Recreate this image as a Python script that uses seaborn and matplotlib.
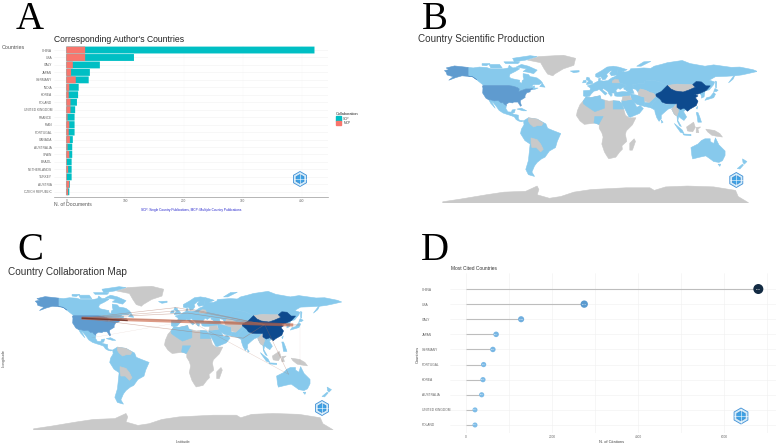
import numpy as np
import pandas as pd
import matplotlib
matplotlib.use("Agg")
import matplotlib.pyplot as plt
from matplotlib.patches import RegularPolygon, Patch
from matplotlib.colors import LinearSegmentedColormap
import seaborn as sns

# ---------- Panel A data ----------
a_countries = ["CHINA", "USA", "ITALY", "JAPAN", "GERMANY", "INDIA", "KOREA", "POLAND",
               "UNITED KINGDOM", "FRANCE", "IRAN", "PORTUGAL", "CANADA", "AUSTRALIA",
               "SPAIN", "BRAZIL", "NETHERLANDS", "TURKEY", "AUSTRIA", "CZECH REPUBLIC"]
a_scp = [390, 83, 46, 32, 22, 16, 16, 11, 8, 12, 9, 10, 5, 8, 5, 8, 6, 8, 1, 2]
a_mcp = [32, 32, 11, 8, 16, 5, 4, 7, 7, 2, 5, 4, 6, 2, 5, 1, 3, 1, 5, 3]

# ---------- Panel D data ----------
d_countries = ["CHINA", "USA", "ITALY", "JAPAN", "GERMANY", "PORTUGAL", "KOREA",
               "AUSTRALIA", "UNITED KINGDOM", "POLAND"]
d_citations = [6790, 2750, 1285, 705, 630, 415, 400, 370, 215, 215]

# ---------- Map outlines (lon, lat) ----------
canada = [(-141,69.6),(-135,69),(-128,70),(-120,69.5),(-115,68),(-108,68),(-100,68),(-95,69),(-94,72),(-90,69),(-85,69.5),(-82,68),(-87,65),(-93,62),(-94,59),(-92,57),(-85,55.5),(-82,55),(-82,52.5),(-79.5,51.5),(-79,54.5),(-77,56),(-78,59),(-78,62.5),(-72,61.5),(-70,59),(-66,58.5),(-62,57.5),(-58,54.5),(-56,52),(-60,50),(-66,50),(-70,47),(-65,48.5),(-65,46),(-61,46),(-66,44),(-67.5,45.5),(-70,46),(-71,45),(-75,45),(-79,43.5),(-83,42),(-82.5,45),(-84.5,46.5),(-89,48),(-95,49),(-123,49),(-130,54.5),(-135,59),(-141,60)]
baffin = [(-80,73),(-72,71),(-62,66.5),(-66,62.5),(-72,64),(-78,65),(-74,68),(-86,70)]
victoria = [(-117,73),(-105,73),(-102,69),(-115,69)]
ellesmere = [(-90,80),(-70,83),(-62,82),(-75,78),(-88,76)]
banks = [(-125,74),(-116,74),(-120,71.5),(-125,72)]
devon = [(-100,76),(-82,76),(-84,74),(-98,74)]
newfoundland = [(-59,47.7),(-56,51.5),(-53,47)]
usa = [(-124.7,48.4),(-123,49),(-95,49),(-89,48),(-84.5,46.5),(-82.5,45),(-83,42),(-79,43.5),(-75,45),(-71,45),(-67.5,45.5),(-67,44.7),(-70,43.5),(-70,41.7),(-74,40.6),(-76,37),(-75.7,35.3),(-78,33.9),(-81,32),(-81.3,30),(-80,26),(-81,25.2),(-82.8,28),(-84,30),(-89,30),(-90,29),(-94,29.6),(-97.3,27.5),(-97.2,26),(-99.5,27.5),(-101.5,29.8),(-103,29),(-106.5,31.8),(-111,31.3),(-114.8,32.5),(-117.2,32.5),(-120.6,34.5),(-122.5,37.5),(-124.3,40.3),(-124,46)]
alaska = [(-141,69.6),(-141,60),(-135,58.5),(-131,55.5),(-136,59),(-148,60),(-155,58),(-163,55),(-158,59),(-165,61),(-166,64),(-168,66),(-163,67),(-166,69),(-156.5,71.3)]
mexico = [(-117.2,32.5),(-114.8,32.5),(-111,31.3),(-106.5,31.8),(-103,29),(-101.5,29.8),(-99.5,27.5),(-97.2,26),(-97.8,22.5),(-95.5,18.8),(-91.5,18.5),(-90.5,21),(-87,21.5),(-88,18),(-91,17),(-92,14.6),(-96,15.8),(-101,17.5),(-105.5,20.5),(-109,25.5),(-112.5,29.5),(-114.5,31),(-110,23),(-115,28.5)]
central_am = [(-92,14.6),(-91,17),(-88.5,16),(-83.5,15),(-83.5,11),(-82,9),(-77.5,8.5),(-80,7.5),(-83,8.3),(-86,10),(-88,13)]
cuba = [(-85,22),(-80,23),(-74,20),(-78,20)]
south_am = [(-77.5,8.5),(-72,12),(-62,10.5),(-52,5),(-50,0),(-44,-2.5),(-35,-6),(-39,-15),(-41,-22),(-48,-26),(-53,-33),(-57,-35),(-62,-39),(-65,-43),(-68,-50),(-65,-55),(-72,-53),(-75,-47),(-72,-37),(-70,-18),(-76,-14),(-81,-6),(-80,-1),(-77,4)]
north_sa_gray = [(-72,12),(-62,10.5),(-55,6),(-57,3),(-62,3),(-66,1.5),(-70,5),(-72,8)]
bolivia_par = [(-69,-11),(-62,-13),(-58,-18),(-55,-24),(-58,-27),(-63,-22),(-68,-22),(-69,-17)]
greenland = [(-73,78),(-60,82),(-32,83.5),(-18,80),(-20,72),(-32,68),(-42,62),(-44,60),(-50,62),(-54,68),(-58,75)]
iceland = [(-24,65.5),(-14,66),(-14,64.5),(-20,63.5)]
europe = [(-9,43),(-1.5,43.5),(-1,46),(-4.5,48.5),(1.5,50.5),(4,52),(8,54),(8.5,57),(10.5,57.5),(10,54.5),(14,54),(19,54.5),(21,56),(24,58),(28,59.5),(28,56),(32,52),(40,49.5),(38,47),(35,46),(33,44.5),(30.5,46),(28,43),(29,41),(26,40.5),(23,40),(24,38),(22.5,36.5),(20,39.5),(19,42),(14,45.5),(12.5,44),(18,40),(16,38),(12,42),(9,44.5),(6,43),(3,42.5),(0,39.5),(-2,36.7),(-5.5,36),(-9,37)]
belarus = [(24,52),(32,52),(31,55.5),(27,56),(24,54)]
scandinavia = [(5,59),(5,62),(12,66),(18,70),(25,71),(31,70),(30,65),(29,61),(23,60),(21,63),(24,65.8),(21.5,65.5),(17.5,62),(18.5,59.5),(16,56),(13,55.5),(11,59),(8,58)]
britain = [(-5.5,50),(1.5,51.2),(1.5,53),(-2,56),(-2,57.5),(-5,58.5),(-6,56),(-3,54),(-5,52)]
ireland = [(-10,52),(-6,52.3),(-6,55),(-9,54.5)]
russia = [(28,59.5),(28,56),(32,52),(40,49.5),(38,47),(37,45),(40,43.5),(48,42),(47,45.5),(49,46.5),(47,50),(55,51),(61,51),(61,54),(70,55),(77,53.5),(83,51),(87,49),(98,50.5),(107,50),(116,50),(120,53.5),(126,53),(131,48),(135,48),(131,43),(135,44),(140,50),(141,53),(135,55),(142,59),(155,59.5),(163,60),(157,52),(162,56),(164,60),(172,61),(179,62.5),(190,65),(185,67),(170,70),(160,69.7),(140,72.5),(130,71),(113,74),(104,77.5),(87,75),(80,73),(72,71),(68,68.5),(60,69),(45,68),(44,66),(40,64.5),(35,64.5),(41,67),(33,69.5),(31,70),(30,65),(29,61)]
novaya = [(52,71),(57,71),(68,76.5),(60,76)]
kazakhstan = [(47,45.5),(49,46.5),(47,50),(55,51),(61,51),(61,54),(70,55),(77,53.5),(83,51),(87,49),(80,42),(71,42.5),(67,41),(62,43.5),(56,45),(53.5,41),(51,44.5)]
kyrgyz = [(67,41),(71,42.5),(80,42),(74,37),(71,40)]
central_gray = [(53.5,41),(56,45),(62,43.5),(67,41),(71,40),(74,37),(70,33),(66,29.5),(61,31),(61,35.5),(54,37.5)]
mongolia = [(87,49),(98,50.5),(107,50),(116,50),(119,47),(111,43.5),(105,41.5),(96,42.7),(91,45)]
china = [(74,39),(80,42),(87,49),(91,45),(96,42.7),(105,41.5),(111,43.5),(119,47),(116,50),(120,53.5),(126,53),(131,48.5),(136,48.5),(133,45),(131,43),(124.5,40),(121.5,39),(118,39),(122,37),(119,35),(122,31),(120,26),(113,22),(110,19.5),(108,21.5),(106,23),(102,21.5),(98,24),(98,28),(92,28),(86,28),(81,30),(79,33),(74,37)]
india = [(68,23.5),(70,28),(74,32),(76,35),(79,33),(81,30),(86,27),(92,28),(97,28),(94,24),(91,23),(88,22),(85,19.5),(80,15),(80,11),(77.5,8),(75,12),(73,18),(72.5,21)]
pakistan = [(61,25),(68,23.5),(70,28),(74,32),(76,35),(74,37),(70,33),(66,29.5),(61,29.5)]
iran = [(44.5,39.5),(48.5,38.5),(54,37.5),(61,35.5),(61,31),(61,25),(57,26),(52,27.5),(49,30),(46,33)]
turkey = [(26,40.5),(29,41),(36,42),(42,41.5),(44.5,39.5),(44,37),(36,36.5),(30,36.5),(27,37)]
caucasus = [(40,43.5),(48,42),(49,40),(44.5,39.5),(42,41.5)]
arabia = [(34.5,28),(35,32),(39,32),(46,33),(49,30),(52,24),(56,26),(59.5,22.5),(55,17),(45,12.8),(43,13),(39,21)]
iraq_syria = [(36,36.5),(44,37),(46,33),(39,32),(35,32)]
africa = [(-6,35.8),(-1,35),(10,37.3),(11,33.5),(20,31),(25,31.5),(32,31),(34.5,28),(37,22),(39,15),(43,12),(51,12),(47,4),(40,-3),(39,-7),(40.5,-15),(35,-20),(35.5,-24),(32.5,-27),(28,-33),(20,-34.8),(18,-32),(15,-27),(12,-18),(13.5,-10),(12,-5),(9,0),(9,4),(5,6),(-4,5),(-8,4.5),(-13,8.5),(-17,14.5),(-16,20),(-13,27),(-9.5,31)]
maghreb = [(-6,35.8),(-1,35),(10,37.3),(11,33.5),(15,31.5),(15,23),(4,19),(-5,25),(-9,28),(-9.5,31)]
egypt = [(25,31.5),(32,31),(34.5,28),(37,22),(25,22)]
nigeria = [(3,6.3),(8.5,4.5),(13.5,13.5),(4,13.5)]
madagascar = [(44,-25),(47,-25),(50.5,-15),(49,-12),(44,-17)]
indochina = [(92,22),(94,24),(98,24),(102,21.5),(106,23),(108,21.5),(105.5,19),(109,13),(106,9),(103,11),(100,13.5),(99,9),(103,2),(101,3),(98.5,8),(98,14),(95,16),(93,20)]
myanmar = [(92,22),(94,24),(97.5,27.5),(98,24),(100,20),(98,14),(95,16),(93,20)]
sumatra = [(95,5.5),(104,-2),(106,-6),(102,-4.5),(98,1)]
java = [(105,-6.5),(114,-7),(114,-8.5),(106,-7.7)]
borneo = [(109,1.5),(117,7),(119,1),(116,-4),(110,-3)]
sulawesi = [(120,1),(125,1.5),(122,-1),(123,-5),(120,-5)]
new_guinea = [(131,-1),(141,-2.5),(147,-6),(150,-10),(143,-9),(138,-8),(133,-4)]
philippines = [(120,18),(122,18),(124,13),(126,7),(122,7),(121,14)]
honshu = [(130,32),(132,35),(136,36),(140,41),(142,39),(140,35),(135,33.5)]
hokkaido = [(140,42),(141.5,45.5),(145,43.5),(143,42)]
korea = [(124.5,40),(130,42.5),(129,36),(126,34.5),(126,37)]
sakhalin = [(142,54),(143.5,53),(143,46),(142,47)]
taiwan = [(120,23),(121.7,25.2),(121,22)]
sri_lanka = [(80,9.5),(82,7),(80.5,6)]
australia = [(114,-22),(122,-18),(126,-14),(130,-12),(136,-12),(136,-15),(140,-17.5),(142,-11),(146,-19),(153,-26),(153,-31),(150,-37),(146,-39),(140,-38),(136,-35),(131,-31.5),(124,-33),(116,-35),(115,-31)]
tasmania = [(145,-41),(148,-41),(147,-43.5)]
nz_north = [(173,-35),(178,-38),(175,-41),(173.5,-39)]
nz_south = [(173,-41),(174,-42),(170,-46.5),(167,-46)]
antarctica = [(-170,-84),(-150,-81),(-120,-76),(-100,-73),(-75,-72),(-62,-66),(-60,-70),(-62,-76),(-48,-80),(-35,-78),(-20,-73),(0,-70),(40,-68),(67,-68),(72,-71),(85,-67),(110,-66),(140,-67),(165,-71),(168,-78),(178,-84),(180,-85.4),(-170,-85.4)]

gray_shapes = [greenland, africa, antarctica, madagascar, borneo, sulawesi, new_guinea]
light_shapes = [canada, baffin, victoria, ellesmere, banks, devon, newfoundland, mexico, central_am, cuba,
                south_am, iceland, europe, scandinavia, britain, ireland, russia, novaya, kazakhstan, kyrgyz,
                india, pakistan, iran, turkey, caucasus, arabia, maghreb, egypt, nigeria, indochina, sumatra, java,
                philippines, honshu, hokkaido, korea, sakhalin, taiwan, sri_lanka, australia, tasmania,
                nz_north, nz_south]
gray_top = [north_sa_gray, bolivia_par, belarus, central_gray, mongolia, iraq_syria, myanmar]
mid_shapes = [usa, alaska]
dark_shapes = [china]

# ---------- Collaboration links ----------
USA_N, CHN_N, ITA_N, GER_N, GBR_N, POL_N = (-113.8,46), (100,38.6), (12,43), (10,52), (-3,58.5), (17,56)
JPN_N, AUS_N, IND_N, MEX_N, USA_E = (141,38), (128,-20), (75,22.5), (-102,23), (-60,43.3)
link_from = [USA_N, USA_N, USA_N, USA_N, USA_N, USA_N, CHN_N, CHN_N, CHN_N, CHN_N, CHN_N, CHN_N, ITA_N, ITA_N, MEX_N, JPN_N, USA_N]
link_to   = [(133.4,38), GBR_N, GER_N, ITA_N, POL_N, IND_N, JPN_N, AUS_N, IND_N, GER_N, GBR_N, POL_N, CHN_N, AUS_N, ITA_N, (141,-8), USA_E]
link_w    = [2.3, 0.4, 0.4, 0.5, 0.35, 0.4, 0.5, 0.3, 0.45, 0.4, 0.4, 0.4, 0.8, 0.3, 0.2, 0.2, 1.0]
link_col  = ["#c8603f"] + ["#a86a55"]*15 + ["#6f3329"]
link_a    = [0.62] + [0.5]*12 + [0.35, 0.25, 0.2, 0.9]

# ---------- Figure ----------
W, H = 776, 446
sns.set_theme(style="white")
plt.rcParams["font.family"] = ["Liberation Sans", "DejaVu Sans"]
fig = plt.figure(figsize=(W/100, H/100), dpi=100, facecolor="white")

def px_axes(x0, y0, x1, y1, **kw):
    return fig.add_axes([x0/W, 1 - y1/H, (x1 - x0)/W, (y1 - y0)/H], **kw)

def txt(x, y, s, **kw):
    fig.text(x/W, 1 - y/H, s, **kw)

C_LIGHT, C_MID, C_DARK, C_GRAY = "#87c9ec", "#5f9bcf", "#0d4a8e", "#c9c9c9"
GTXT = "#666666"

# ---------- Panel A ----------
df_a = pd.DataFrame({"country": a_countries, "SCP": a_scp, "MCP": a_mcp})
df_a["total"] = df_a.SCP + df_a.MCP
ax = px_axes(54, 46, 328, 197)
sns.barplot(data=df_a, y="country", x="total", color="#00BFC4", width=0.92, saturation=1, linewidth=0, ax=ax)
sns.barplot(data=df_a, y="country", x="MCP", color="#F8766D", width=0.92, saturation=1, linewidth=0, ax=ax)
for p in ax.patches:
    p.set_snap(False)
ax.set_xlim(-21, 445)
ax.set_ylim(19.7, -0.54)
ax.set_xlabel(""); ax.set_ylabel("")
ax.set_xticks([0, 100, 200, 300, 400])
ax.tick_params(axis="both", labelsize=2.3, colors=GTXT, length=1, width=0.3, pad=0.4)
ax.grid(axis="y", color="#f2f2f2", lw=0.4)
ax.grid(axis="x", color="#f8f8f8", lw=0.3)
ax.set_axisbelow(True)
sns.despine(ax=ax, left=True, top=True, right=True)
ax.spines["bottom"].set_color("#999999"); ax.spines["bottom"].set_linewidth(0.5)
txt(54, 39, "Corresponding Author's Countries", fontsize=6.2, color="#222222", va="center")
txt(2, 47.5, "Countries", fontsize=3.9, color="#555555", va="center")
txt(54, 205, "N. of Documents", fontsize=3.6, color="#555555", va="center")
txt(191, 210, "SCP: Single Country Publications, MCP: Multiple Country Publications",
    fontsize=2.3, color="#2222cc", ha="center", va="center")
fig.legend(handles=[Patch(color="#00BFC4", label="SCP"), Patch(color="#F8766D", label="MCP")],
           title="Collaboration", loc="upper left", bbox_to_anchor=(334/W, 1 - 110.5/H), frameon=False,
           fontsize=2.3, title_fontsize=2.8, handlelength=1.8, handleheight=1.8, labelspacing=0.05,
           handletextpad=0.6, borderpad=0, alignment="left", labelcolor="#444444")

# ---------- Maps ----------
def draw_map(ax):
    for group, col in [(gray_shapes, C_GRAY), (light_shapes, C_LIGHT), (gray_top, C_GRAY),
                       (mid_shapes, C_MID), (dark_shapes, C_DARK)]:
        for shape in group:
            lon, lat = zip(*shape)
            ax.fill(lon, lat, color=col, lw=0.4, joinstyle="round")
    ax.set_xlim(-180, 190)
    ax.set_ylim(-85.4, 83.8)
    ax.set_axis_off()

ax_b = px_axes(434, 55, 757.4, 203)
draw_map(ax_b)
txt(418, 39, "Country Scientific Production", fontsize=7.1, color="#333333", va="center")

ax_c = px_axes(25, 286, 341.7, 430)
draw_map(ax_c)
for (x0, y0), (x1, y1), w, c, al in zip(link_from, link_to, link_w, link_col, link_a):
    ax_c.plot([x0, x1], [y0, y1], color=c, lw=w, alpha=al, solid_capstyle="butt")
txt(8, 272, "Country Collaboration Map", fontsize=7.2, color="#333333", va="center")
txt(4, 358, "Longitude", fontsize=3, color="#555555", rotation=90, ha="center", va="center")
txt(183, 442, "Latitude", fontsize=3, color="#555555", ha="center", va="center")

# ---------- Panel D ----------
df_d = pd.DataFrame({"country": d_countries, "citations": d_citations})
ax = px_axes(450, 273, 776, 433)
ax.hlines(df_d.country, 0, df_d.citations, color="#bdbdbd", lw=0.8, zorder=1)
cmap = LinearSegmentedColormap.from_list("cite", ["#7fbde8", "#4f8fc8", "#132B43"])
sns.scatterplot(data=df_d, x="citations", y="country", hue="citations", palette=cmap,
                size="citations", sizes=(13, 52), legend=False, linewidth=0, ax=ax, zorder=3)
for v, c in zip(df_d.citations, df_d.country):
    ax.text(v, c, str(v), fontsize=1.6, color="white", ha="center", va="center", zorder=4)
ax.set_xlim(-365, 7200)
ax.set_ylim(9.53, -1.06)
ax.set_xticks([0, 2000, 4000, 6000])
ax.set_xticks([1000, 3000, 5000, 7000], minor=True)
ax.grid(which="both", color="#f0f0f0", lw=0.4)
ax.set_axisbelow(True)
ax.set_xlabel(""); ax.set_ylabel("")
ax.tick_params(axis="x", labelsize=2.3, colors=GTXT, length=0, pad=1.5)
ax.tick_params(axis="y", labelsize=2.3, colors=GTXT, length=0, pad=20.2)
for t in ax.get_yticklabels():
    t.set_ha("left")
sns.despine(ax=ax, left=True, bottom=True)
txt(451, 269, "Most Cited Countries", fontsize=3.5, color="#333333", va="center")
txt(612, 442, "N. of Citations", fontsize=2.85, color="#444444", ha="center", va="center")
txt(418, 354, "Countries", fontsize=2.9, color="#444444", rotation=90, ha="center", va="center")

# ---------- Panel letters ----------
for x, y, s in [(16, 29, "A"), (422, 29, "B"), (17, 260, "C"), (421, 260, "D")]:
    txt(x, y, s, fontsize=28, family="Liberation Serif", color="black", va="baseline")

# ---------- Logo marks ----------
over = px_axes(0, 0, W, H, facecolor="none")
over.set_xlim(0, W); over.set_ylim(H, 0); over.set_axis_off()
for cx, cy, r in [(300, 179, 7.5), (736.3, 180, 7.5), (322, 408, 7.5), (741, 416, 8)]:
    over.add_patch(RegularPolygon((cx, cy), 6, radius=r, facecolor="#d3ecf9", edgecolor="#3f8fd6", lw=0.6))
    over.add_patch(RegularPolygon((cx, cy), 6, radius=r*0.62, facecolor="#3ea2e4", edgecolor="#2a6fc0", lw=0.3))
    over.plot([cx - r*0.85, cx + r*0.85], [cy, cy], color="white", lw=0.4)
    over.plot([cx, cx], [cy - r*0.85, cy + r*0.85], color="white", lw=0.4)

fig.savefig("out.png", dpi=100, facecolor="white")
